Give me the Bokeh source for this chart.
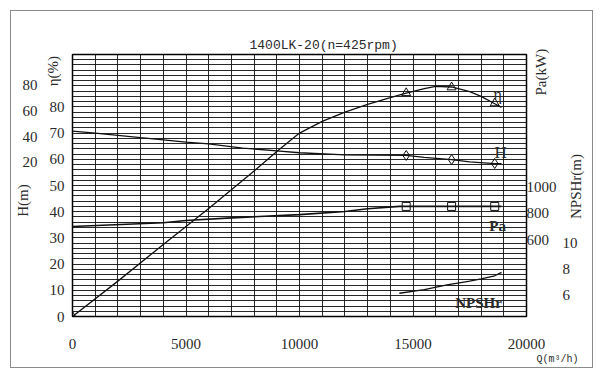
import math
from bokeh.plotting import figure
from bokeh.models import (Range1d, LinearAxis, FixedTicker, Label, Title)
from bokeh.embed import file_html
from bokeh.resources import INLINE

# ---------------- data ----------------
title_text = "1400LK-20(n=425rpm)"

# efficiency curve eta (%)
q_eta = [0, 2000, 4000, 6000, 8000, 9000, 10000, 11000, 12000, 13000, 14000,
         14700, 15500, 16000, 16700, 17500, 18000, 18600, 18900]
eta = [0, 13.5, 27.5, 41.2, 55.5, 63, 70, 74.5, 78, 81, 83.5,
       85.3, 87, 87.8, 87.6, 85.8, 84, 81.2, 79.8]
q_eta_mk = [0, 14700, 16700, 18600]
eta_mk = [0, 85.3, 87.5, 81.4]

# head curve H (m)
q_h = [0, 1000, 3000, 5000, 6000, 7500, 9000, 10000, 12000, 14700,
       15500, 16700, 17500, 18600, 18900]
head = [44.3, 42.8, 39.2, 35.7, 34.4, 31.1, 29.0, 27.5, 25.8, 25.4,
        23.9, 22.2, 20.4, 19.1, 19.0]
q_h_mk = [14700, 16700, 18600]
head_mk = [25.4, 22.2, 19.1]

# shaft power Pa (kW)
q_pa = [0, 4000, 5000, 7000, 10000, 12000, 13000, 14400, 16700, 18600, 18900]
pa = [700, 729, 745, 765, 790, 814, 834, 852, 852, 852, 852]
q_pa_mk = [14700, 16700, 18600]
pa_mk = [852, 852, 852]

# NPSHr (m)
q_npsh = [14400, 15500, 16500, 17500, 18000, 18600, 18900]
npsh = [6.10, 6.39, 6.76, 7.05, 7.23, 7.47, 7.74]

# ticks
x_ticks = [0, 5000, 10000, 15000, 20000]
eta_ticks = [0, 10, 20, 30, 40, 50, 60, 70, 80]
h_ticks = [20, 40, 60, 80]
pa_ticks = [600, 800, 1000]
npsh_ticks = [6, 8, 10]
x_grid = list(range(0, 20001, 1000))
y_grid = list(range(0, 101, 2))

# ---------------- figure ----------------
W, H = 583, 358
p = figure(width=W, height=H, output_backend="svg", toolbar_location=None,
           x_range=Range1d(0, 20000), y_range=Range1d(0, 100),
           min_border_left=59, min_border_right=68,
           min_border_top=43, min_border_bottom=53)
p.styles = {"border": "1px solid #8a8a8a", "margin-left": "10px",
            "margin-top": "10px"}
p.background_fill_color = "white"
p.border_fill_color = "white"
p.outline_line_color = "black"
p.outline_line_width = 1.5

SERIF = "Liberation Serif"
TXT = "#2a2a2a"
NB = "\u00a0"  # non-breaking space used to slide axis titles along the axis

p.add_layout(Title(text=title_text, text_font="Liberation Mono",
                   text_font_size="13px", text_font_style="normal",
                   text_color=TXT, align="left", offset=177, standoff=4),
             "above")
p.add_layout(Title(text="Q(m³/h)", text_font="Liberation Mono",
                   text_font_size="10px", text_font_style="normal",
                   text_color=TXT, align="right", offset=-52, standoff=0),
             "below")

p.extra_y_ranges = {
    "H": Range1d(-100, 104),
    "Pa": Range1d(20, 2000),
    "N": Range1d(4.28, 24.8),
}

def style_axis(ax, standoff):
    ax.axis_line_color = None
    ax.major_tick_line_color = None
    ax.minor_tick_line_color = None
    ax.major_tick_out = 0
    ax.major_tick_in = 0
    ax.major_label_standoff = standoff
    ax.major_label_text_font = SERIF
    ax.major_label_text_font_size = "15px"
    ax.major_label_text_color = TXT
    ax.axis_label_text_font = SERIF
    ax.axis_label_text_font_size = "15px"
    ax.axis_label_text_font_style = "normal"
    ax.axis_label_text_color = TXT

def set_prop(ax, name, val):
    if name in ax.properties():
        try:
            setattr(ax, name, val)
        except Exception:
            pass

p.xaxis.ticker = FixedTicker(ticks=x_ticks)
style_axis(p.xaxis[0], 22)

p.yaxis.ticker = FixedTicker(ticks=eta_ticks)
style_axis(p.yaxis[0], 8)

ax_h = LinearAxis(y_range_name="H", ticker=FixedTicker(ticks=h_ticks),
                  axis_label="H(m)" + NB * 8)
style_axis(ax_h, 9)
ax_h.axis_label_standoff = -11
p.add_layout(ax_h, "left")

ax_eta_t = LinearAxis(ticker=FixedTicker(ticks=[]),
                      axis_label=NB * 61 + "η(%)")
style_axis(ax_eta_t, 0)
ax_eta_t.major_label_text_font_size = "1px"
ax_eta_t.axis_label_standoff = -49
p.add_layout(ax_eta_t, "left")

ax_pa = LinearAxis(y_range_name="Pa", ticker=FixedTicker(ticks=pa_ticks))
style_axis(ax_pa, 0)
p.add_layout(ax_pa, "right")

ax_n = LinearAxis(y_range_name="N", ticker=FixedTicker(ticks=npsh_ticks),
                  axis_label=NB * 26 + "NPSHr(m)")
style_axis(ax_n, 3)
ax_n.axis_label_standoff = -5
set_prop(ax_n, "axis_label_orientation", math.pi / 2)
set_prop(ax_n, "axis_label_align", "start")
p.add_layout(ax_n, "right")

ax_pa_t = LinearAxis(y_range_name="Pa", ticker=FixedTicker(ticks=[]),
                     axis_label=NB * 24 + "Pa(kW)")
style_axis(ax_pa_t, 0)
ax_pa_t.major_label_text_font_size = "1px"
ax_pa_t.axis_label_standoff = -54
set_prop(ax_pa_t, "axis_label_orientation", math.pi / 2)
p.add_layout(ax_pa_t, "right")

p.xgrid.ticker = FixedTicker(ticks=x_grid)
p.ygrid.ticker = FixedTicker(ticks=y_grid)
for g in (p.xgrid[0], p.ygrid[0]):
    g.grid_line_color = "#111111"
    g.grid_line_width = 1
    g.grid_line_alpha = 0.9

LC = "#111111"
p.line(q_eta, eta, line_color=LC, line_width=1.3)
p.scatter(q_eta_mk, eta_mk, marker="triangle", size=9, fill_color=None,
          line_color=LC, line_width=1)

p.line(q_h, head, line_color=LC, line_width=1.3, y_range_name="H")
p.scatter(q_h_mk, head_mk, marker="diamond", size=10, fill_color=None,
          line_color=LC, line_width=1, y_range_name="H")

p.line(q_pa, pa, line_color=LC, line_width=1.6, y_range_name="Pa")
p.scatter(q_pa_mk, pa_mk, marker="square", size=8, fill_color=None,
          line_color=LC, line_width=1, y_range_name="Pa")

p.line(q_npsh, npsh, line_color=LC, line_width=1.3, y_range_name="N")

# curve names (inside the frame, placed on the efficiency scale)
def data_label(q, y, text, size, weight="normal"):
    p.add_layout(Label(x=q, y=y, text=text, text_font=SERIF,
                       text_font_size=size, text_color=TXT, text_align="center",
                       text_baseline="middle", text_font_style=weight))

data_label(18730, 84.7, "η", "16px")
data_label(18860, 62.6, "H", "17px")
data_label(18730, 34.7, "Pa", "15px", "bold")
data_label(17890, 5.3, "NPSHr", "15px", "bold")

open("out.html", "w").write(file_html(p, INLINE))
